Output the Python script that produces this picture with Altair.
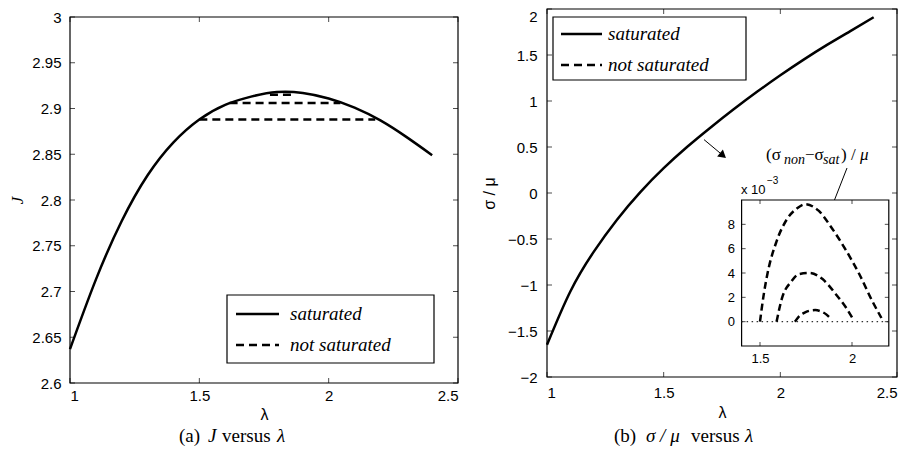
import altair as alt
import pandas as pd

# ---------------- values ----------------
lam = [1.0, 1.1, 1.2, 1.3, 1.4, 1.5, 1.6, 1.7, 1.8, 1.9, 2.0, 2.1, 2.2, 2.3, 2.4]
J_saturated = [2.637, 2.713, 2.777, 2.827, 2.863, 2.888, 2.904, 2.913, 2.918,
               2.917, 2.911, 2.901, 2.887, 2.869, 2.849]
J_not_level = [2.888, 2.906, 2.915]
J_not_from = [1.50, 1.617, 1.773]
J_not_to = [2.18, 2.045, 1.87]

sig_saturated = [-1.65, -1.07, -0.64, -0.29, 0.01, 0.27, 0.50, 0.71, 0.91,
                 1.10, 1.28, 1.45, 1.61, 1.76, 1.91]

inset1_x = [1.50, 1.52, 1.54, 1.59, 1.65, 1.70, 1.745, 1.82, 1.89, 1.97, 2.04, 2.11, 2.16]
inset1_y = [0.0, 2.2, 3.9, 6.6, 8.5, 9.3, 9.65, 9.1, 7.7, 5.8, 3.9, 1.7, 0.3]
inset2_x = [1.59, 1.62, 1.67, 1.71, 1.77, 1.84, 1.91, 1.97, 2.01]
inset2_y = [0.0, 1.95, 3.3, 3.9, 4.0, 3.5, 2.3, 1.1, 0.1]
inset3_x = [1.69, 1.71, 1.74, 1.77, 1.80, 1.83, 1.86, 1.875]
inset3_y = [0.0, 0.4, 0.72, 0.9, 0.95, 0.85, 0.6, 0.4]

arrow_x = [1.673, 1.75]
arrow_y = [0.58, 0.417]

x_ticks = [1, 1.5, 2, 2.5]
J_ticks = [2.6, 2.65, 2.7, 2.75, 2.8, 2.85, 2.9, 2.95, 3.0]
sig_ticks = [-2, -1.5, -1, -0.5, 0, 0.5, 1, 1.5, 2]
inset_x_dom = [1.4, 2.2]
inset_y_dom = [-2, 10]
inset_x_ticks = [1.5, 2]
inset_y_ticks = [0, 2, 4, 6, 8]
legend_labels = ["saturated", "not saturated"]

# ---------------- helpers ----------------
one = pd.DataFrame({"k": [0]})
BLACK = "black"


def ptext(s, x, y, size=19, italic=False, font="Liberation Serif",
          baseline="middle", align="left"):
    return alt.Chart(one).mark_text(
        text=s, align=align, baseline=baseline, font=font, fontSize=size,
        fontStyle="italic" if italic else "normal", color=BLACK
    ).encode(x=alt.value(x), y=alt.value(y))


def prule(x, x2, y, y2=None, dash=None, width=2.5):
    kw = dict(color=BLACK, strokeWidth=width)
    if dash:
        kw["strokeDash"] = dash
    enc = dict(x=alt.value(x), x2=alt.value(x2), y=alt.value(y))
    if y2 is not None:
        enc["y2"] = alt.value(y2)
    return alt.Chart(one).mark_rule(**kw).encode(**enc)


def legend(x0, x1, y0, y1, lx0, lx1, tx, row_y):
    box = alt.Chart(one).mark_rect(fill="white", stroke=BLACK, strokeWidth=1.2).encode(
        x=alt.value(x0), x2=alt.value(x1), y=alt.value(y0), y2=alt.value(y1))
    l1 = prule(lx0, lx1, row_y[0])
    l2 = prule(lx0, lx1, row_y[1], dash=[8, 5])
    t1 = ptext(legend_labels[0], tx, row_y[0], italic=True)
    t2 = ptext(legend_labels[1], tx, row_y[1], italic=True)
    return [box, l1, l2, t1, t2]


def frame_and_ticks(X, Y, xt, yt, xdom, ydom, size=5):
    fr = pd.DataFrame({"x": [xdom[0]], "x2": [xdom[1]], "y": [ydom[0]], "y2": [ydom[1]]})
    frame = alt.Chart(fr).mark_rect(fill="white", fillOpacity=0, stroke=BLACK,
                                    strokeWidth=1.2).encode(
        x=X("x"), x2=alt.X2("x2"), y=Y("y"), y2=alt.Y2("y2"))
    h = size / 2
    out = [frame]
    for yv, off in [(ydom[0], -h), (ydom[1], h)]:
        d = pd.DataFrame({"x": xt, "y": [yv] * len(xt)})
        out.append(alt.Chart(d).mark_tick(orient="vertical", size=size, thickness=1,
                                          yOffset=off, color=BLACK).encode(x=X("x"), y=Y("y")))
    for xv, off in [(xdom[0], h), (xdom[1], -h)]:
        d = pd.DataFrame({"x": [xv] * len(yt), "y": yt})
        out.append(alt.Chart(d).mark_tick(orient="horizontal", size=size, thickness=1,
                                          xOffset=off, color=BLACK).encode(x=X("x"), y=Y("y")))
    return out


# ---------------- left panel: J versus lambda ----------------
WL, HL = 388, 374
xsL = alt.Scale(domain=[x_ticks[0], x_ticks[-1]], nice=False, zero=False)
ysL = alt.Scale(domain=[J_ticks[0], J_ticks[-1]], range=[HL, 8], nice=False, zero=False)
axxL = alt.Axis(values=x_ticks, format="~g", title="λ", domain=False, ticks=False,
                grid=False, labelPadding=5, titlePadding=3)
axyL = alt.Axis(values=J_ticks, format=".2~f", title="J", domain=False, ticks=False,
                grid=False, labelPadding=9, titlePadding=5, titleFont="Liberation Serif",
                titleFontStyle="italic", titleFontSize=17)


def XL(f):
    return alt.X(f"{f}:Q", scale=xsL, axis=axxL)


def YL(f):
    return alt.Y(f"{f}:Q", scale=ysL, axis=axyL)


satL = pd.DataFrame({"x": lam, "y": J_saturated})
nsL = pd.DataFrame({"x": J_not_from, "x2": J_not_to, "y": J_not_level})

left_layers = frame_and_ticks(XL, YL, x_ticks, J_ticks,
                              [x_ticks[0], x_ticks[-1]], [J_ticks[0], J_ticks[-1]])
left_layers += [
    alt.Chart(satL).mark_line(color=BLACK, strokeWidth=2.5, interpolate="natural").encode(
        x=XL("x"), y=YL("y")),
    alt.Chart(nsL).mark_rule(color=BLACK, strokeWidth=2.5, strokeDash=[8, 5]).encode(
        x=XL("x"), x2=alt.X2("x2"), y=YL("y")),
]
left_layers += legend(157, 364, 286, 354, 166, 209, 220, [305, 336])
left_layers += [
    ptext("(a)", 109, 427),
    ptext("J", 138, 427, italic=True),
    ptext("versus", 152, 427),
    ptext("λ", 207, 427, italic=True),
]
left = alt.layer(*left_layers).properties(width=WL, height=HL)

# ---------------- right panel: sigma/mu versus lambda ----------------
WR, HR = 350, 368
xsR = alt.Scale(domain=[x_ticks[0], x_ticks[-1]], nice=False, zero=False)
ysR = alt.Scale(domain=[sig_ticks[0], sig_ticks[-1]], nice=False, zero=False)
axxR = alt.Axis(values=x_ticks, format="~g", title="λ", domain=False, ticks=False,
                grid=False, labelPadding=8, titlePadding=4, orient="bottom")
axyR = alt.Axis(values=sig_ticks, format=".1~f", title="σ / μ", domain=False, ticks=False,
                grid=False, labelPadding=10, titlePadding=10, orient="left",
                labelBaseline={"condition": {"test": "datum.value == 2", "value": "top"},
                               "value": "middle"})


def XR(f):
    return alt.X(f"{f}:Q", scale=xsR, axis=axxR)


def YR(f):
    return alt.Y(f"{f}:Q", scale=ysR, axis=axyR)


satR = pd.DataFrame({"x": lam, "y": sig_saturated})
arr = pd.DataFrame({"x": [arrow_x[0]], "x2": [arrow_x[1]], "y": [arrow_y[0]], "y2": [arrow_y[1]]})
arr_head = pd.DataFrame({"x": [arrow_x[1]], "y": [arrow_y[1]]})

main_layers = frame_and_ticks(XR, YR, x_ticks, sig_ticks,
                              [x_ticks[0], x_ticks[-1]], [sig_ticks[0], sig_ticks[-1]])
main_layers += [
    alt.Chart(satR).mark_line(color=BLACK, strokeWidth=2.5, interpolate="natural").encode(
        x=XR("x"), y=YR("y")),
    alt.Chart(arr).mark_rule(color=BLACK, strokeWidth=1).encode(
        x=XR("x"), x2=alt.X2("x2"), y=YR("y"), y2=alt.Y2("y2")),
    alt.Chart(arr_head).mark_point(shape="triangle", angle=130, size=80, filled=True,
                                   color=BLACK, opacity=1).encode(x=XR("x"), y=YR("y")),
]
main_layers += legend(6, 199, 8, 71, 14, 55, 61, [25, 56])
main_layers += [
    ptext("(b)", 67, 427),
    ptext("σ / μ", 99, 427, italic=True),
    ptext("versus", 144, 427),
    ptext("λ", 198, 427, italic=True),
    # inset annotations
    ptext("x 10", 194, 185, size=13, font="Liberation Sans", baseline="alphabetic"),
    ptext("−3", 220, 175, size=10, font="Liberation Sans", baseline="alphabetic"),
    ptext("(σ", 219, 151, size=17, baseline="alphabetic"),
    ptext("non", 237, 155, size=14, italic=True, baseline="alphabetic"),
    ptext("−σ", 258, 151, size=17, baseline="alphabetic"),
    ptext("sat", 276, 155, size=14, italic=True, baseline="alphabetic"),
    ptext(") /", 294, 151, size=17, baseline="alphabetic"),
    ptext("μ", 313, 151, size=17, italic=True, baseline="alphabetic"),
    prule(300, 282, 159, 205, width=1),
]
main_R = alt.layer(*main_layers)

# ---------------- inset ----------------
xsI = alt.Scale(domain=inset_x_dom, range=[194.6, 341.8], nice=False, zero=False)
ysI = alt.Scale(domain=inset_y_dom, range=[337, 191], nice=False, zero=False)
axxI = alt.Axis(values=inset_x_ticks, format="~g", title=None, domain=False, ticks=False,
                grid=False, orient="bottom", offset=-31, labelFontSize=13, labelPadding=6)
axyI = alt.Axis(values=inset_y_ticks, format="d", title=None, domain=False, ticks=False,
                grid=False, orient="left", offset=-194.6, labelFontSize=13, labelPadding=7)


def XI(f):
    return alt.X(f"{f}:Q", scale=xsI, axis=axxI)


def YI(f):
    return alt.Y(f"{f}:Q", scale=ysI, axis=axyI)


ins = pd.concat([
    pd.DataFrame({"x": inset1_x, "y": inset1_y, "c": "1"}),
    pd.DataFrame({"x": inset2_x, "y": inset2_y, "c": "2"}),
    pd.DataFrame({"x": inset3_x, "y": inset3_y, "c": "3"}),
])
zero_line = pd.DataFrame({"x": [inset_x_dom[0]], "x2": [inset_x_dom[1]], "y": [0]})

ifr = pd.DataFrame({"x": [inset_x_dom[0]], "x2": [inset_x_dom[1]],
                    "y": [inset_y_dom[0]], "y2": [inset_y_dom[1]]})
inset_layers = [
    alt.Chart(ifr).mark_rect(fill="white", stroke=BLACK, strokeWidth=1.2).encode(
        x=XI("x"), x2=alt.X2("x2"), y=YI("y"), y2=alt.Y2("y2")),
]
inset_layers += frame_and_ticks(XI, YI, inset_x_ticks, inset_y_ticks,
                                inset_x_dom, inset_y_dom, size=4)[1:]
inset_layers += [
    alt.Chart(zero_line).mark_rule(color="#333333", strokeWidth=1.2, strokeDash=[1.5, 3.5]).encode(
        x=XI("x"), x2=alt.X2("x2"), y=YI("y")),
    alt.Chart(ins).mark_line(color=BLACK, strokeWidth=2.5, strokeDash=[7, 4],
                             interpolate="monotone").encode(
        x=XI("x"), y=YI("y"), detail="c:N"),
]
inset = alt.layer(*inset_layers)

right = alt.layer(main_R, inset).resolve_scale(x="independent", y="independent").properties(
    width=WR, height=HR)

chart = alt.hconcat(left, right, spacing=22).configure_view(stroke=None).configure_axis(
    labelFont="Liberation Sans", labelFontSize=15, labelColor=BLACK,
    titleFont="Liberation Sans", titleFontSize=16, titleFontWeight="normal", titleColor=BLACK
).properties(padding={"left": 0, "top": 0, "right": 5, "bottom": 5}, background="white")

chart.save("out.html", embed_options={"renderer": "svg", "actions": False})
